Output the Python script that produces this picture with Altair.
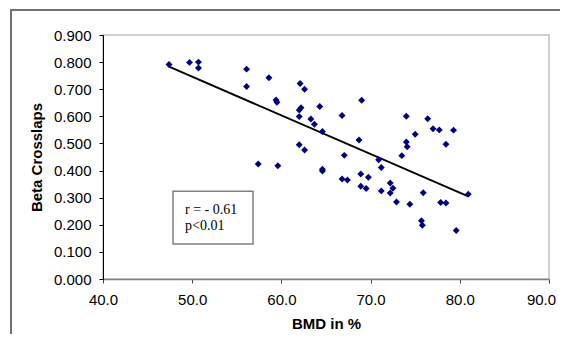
import altair as alt
import pandas as pd

bmd = [47.4, 49.7, 50.7, 50.7, 56.1, 56.1, 58.6, 59.4, 59.5, 57.4, 59.6,
       62.1, 62.6, 62.2, 62.0, 62.0, 62.0, 62.6, 63.3, 63.7, 64.3, 64.6,
       64.6, 64.6, 66.8, 67.05, 66.8, 67.4, 68.7, 69.0, 68.9, 69.75, 68.9,
       69.5, 70.9, 71.2, 71.2, 72.2, 72.5, 72.2, 72.9, 73.5, 74.0, 74.0,
       74.1, 74.4, 75.0, 75.9, 75.7, 75.8, 76.4, 77.0, 77.7, 77.85, 78.45,
       78.45, 79.3, 79.6, 80.95]
beta = [0.791, 0.799, 0.800, 0.778, 0.774, 0.710, 0.742, 0.660, 0.652, 0.424, 0.418,
        0.721, 0.700, 0.632, 0.623, 0.599, 0.495, 0.476, 0.590, 0.571, 0.636, 0.544,
        0.405, 0.398, 0.603, 0.456, 0.369, 0.365, 0.513, 0.659, 0.387, 0.375, 0.342,
        0.334, 0.440, 0.411, 0.325, 0.354, 0.335, 0.317, 0.284, 0.455, 0.600, 0.505,
        0.488, 0.276, 0.534, 0.318, 0.215, 0.198, 0.591, 0.554, 0.550, 0.282, 0.280,
        0.497, 0.549, 0.179, 0.313]

x_ticks = [40, 50, 60, 70, 80, 90]
y_ticks = [0.0, 0.1, 0.2, 0.3, 0.4, 0.5, 0.6, 0.7, 0.8, 0.9]

note_lines = ["r = - 0.61", "p<0.01"]
note_x = [49.2, 49.2]
note_y = [0.239, 0.180]
box = {"x": [47.85], "x2": [56.82], "y": [0.324], "y2": [0.129]}

df = pd.DataFrame({"BMD": bmd, "Beta": beta})
notes = pd.DataFrame({"t": note_lines, "x": note_x, "y": note_y})
boxdf = pd.DataFrame(box)

xs = alt.Scale(domain=[40, 90], nice=False)
ys = alt.Scale(domain=[0, 0.9], nice=False)

xaxis = alt.Axis(values=x_ticks, format=".1f", grid=False, domainColor="#808080",
                 domainWidth=1.5, tickColor="#404040", tickSize=4, labelFontSize=15,
                 labelFont="Liberation Sans", labelColor="#000000", labelPadding=9,
                 labelOverlap=False, labelFlush=False,
                 labelOffset={"condition": {"test": "datum.value >= 90", "value": -8}, "value": 0},
                 title="BMD in %", titleFont="Liberation Sans", titleFontSize=15,
                 titleFontWeight="bold", titleColor="#000000", titlePadding=9)
yaxis = alt.Axis(values=y_ticks, format=".3f", grid=False, domainColor="#000000",
                 tickColor="#000000", tickSize=4, labelFontSize=15,
                 labelFont="Liberation Sans", labelColor="#000000", labelPadding=8,
                 labelOverlap=False, labelFlush=False,
                 title="Beta Crosslaps", titleFont="Liberation Sans", titleFontSize=15,
                 titleFontWeight="bold", titleColor="#000000", titlePadding=9)

frame = alt.Chart(pd.DataFrame({"a": [0]})).mark_rect(
    fill=None, stroke="#707070", strokeWidth=2, clip=False
).encode(x=alt.value(-92), x2=alt.value(700), y=alt.value(-25), y2=alt.value(600))

points = alt.Chart(df).mark_point(shape="diamond", filled=True, color="#000080",
                                  size=48, opacity=1).encode(
    x=alt.X("BMD:Q", scale=xs, axis=xaxis),
    y=alt.Y("Beta:Q", scale=ys, axis=yaxis),
)

reg = alt.Chart(df).transform_regression("BMD", "Beta").mark_line(
    color="#000000", strokeWidth=2).encode(
    x=alt.X("BMD:Q", scale=xs, axis=xaxis),
    y=alt.Y("Beta:Q", scale=ys, axis=yaxis),
)

rect = alt.Chart(boxdf).mark_rect(fill="#ffffff", stroke="#808080", strokeWidth=1.5).encode(
    x=alt.X("x:Q", scale=xs, axis=xaxis), x2="x2:Q",
    y=alt.Y("y:Q", scale=ys, axis=yaxis), y2="y2:Q",
)

text = alt.Chart(notes).mark_text(align="left", baseline="alphabetic",
                                  font="Liberation Serif", fontSize=14,
                                  color="#000000").encode(
    x=alt.X("x:Q", scale=xs, axis=xaxis), y=alt.Y("y:Q", scale=ys, axis=yaxis), text="t:N")

chart = alt.layer(frame, reg, points, rect, text).properties(
    width=446, height=244,
    autosize=alt.AutoSizeParams(type="none"),
    padding={"left": 95, "top": 27, "right": 11, "bottom": 55},
).configure_view(stroke="#c0c0c0", strokeWidth=1.5)

chart.save("out.html", embed_options={"renderer": "svg", "actions": False})
